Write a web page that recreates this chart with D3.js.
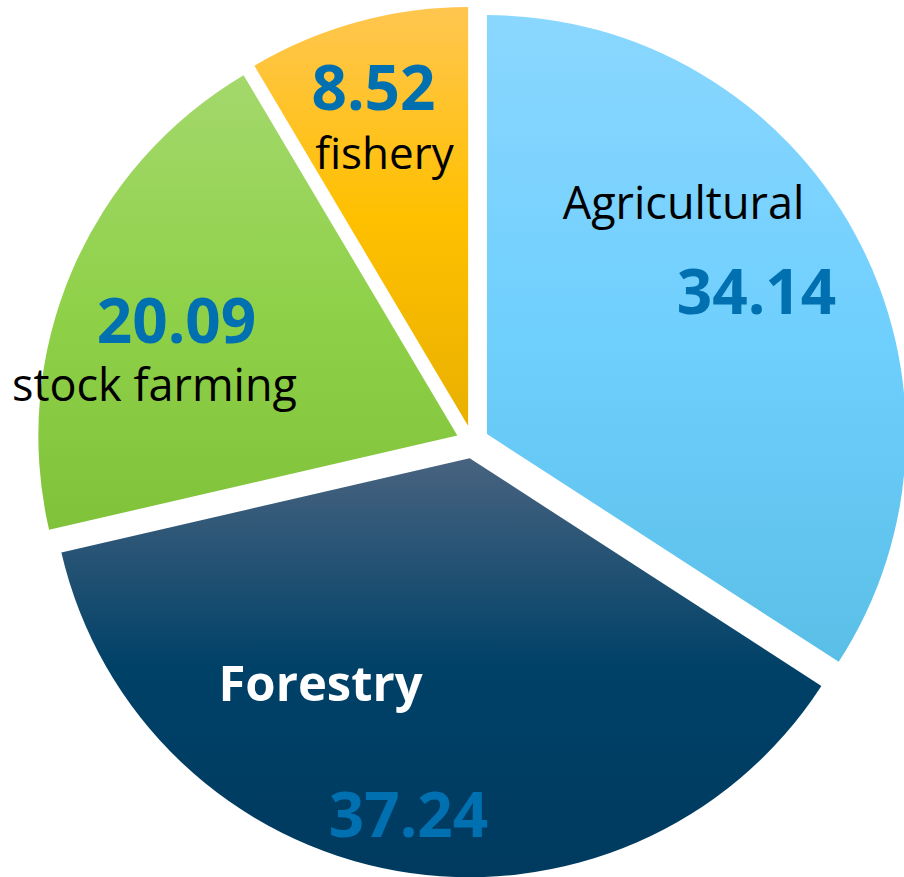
<!DOCTYPE html>
<html>
<head>
<meta charset="utf-8">
<script src="https://cdn.jsdelivr.net/npm/d3@7"></script>
<style>
  html, body { margin: 0; padding: 0; background: #fff; }
  svg { display: block; }
</style>
</head>
<body>
<svg id="chart" width="904" height="877"></svg>
<script>
// ---- data ----
const categories = ["Agricultural", "Forestry", "stock farming", "fishery"];
const values = [34.14, 37.24, 20.09, 8.52];
const valueLabels = ["34.14", "37.24", "20.09", "8.52"];

// ---- styles / layout ----
const W = 904, H = 877;
const cx = 472.5, cy = 442, R = 419, explode = 16.5;
const gradients = [
  ["#8ad7ff", "#6fcffd", "#5abfe7"],
  ["#48637f", "#004168", "#003a5f"],
  ["#a3d86c", "#90d14a", "#80c23a"],
  ["#ffc650", "#ffc000", "#e9b000"]
];
// label placement: offsets from pie centre, name and value
const labelLayout = [
  { name: [211, -223], value: [284, -128] },
  { name: [-152, 259], value: [-64, 395] },
  { name: [-318, -41], value: [-296, -99] },
  { name: [-88, -273], value: [-99, -332] }
];
const nameStyle = [
  { size: 45, weight: 400, fill: "#000" },
  { size: 49, weight: 700, fill: "#fff" },
  { size: 45, weight: 400, fill: "#000" },
  { size: 44, weight: 400, fill: "#000" }
];
const valueColor = "#0070b0";
const font = "'Open Sans', 'Noto Sans', sans-serif";

const svg = d3.select("#chart");
const defs = svg.append("defs");
gradients.forEach((g, i) => {
  const lg = defs.append("linearGradient")
    .attr("id", "grad" + i)
    .attr("x1", 0).attr("y1", 0).attr("x2", 0).attr("y2", 1);
  lg.append("stop").attr("offset", "0%").attr("stop-color", g[0]);
  lg.append("stop").attr("offset", "50%").attr("stop-color", g[1]);
  lg.append("stop").attr("offset", "100%").attr("stop-color", g[2]);
});

const data = categories.map((c, i) => ({ name: c, value: values[i], label: valueLabels[i], i }));
const pie = d3.pie().sort(null).value(d => d.value).startAngle(0).endAngle(2 * Math.PI);
const arc = d3.arc().innerRadius(0).outerRadius(R);
const arcs = pie(data);

const g = svg.append("g").attr("transform", `translate(${cx},${cy})`);

g.selectAll("path.slice")
  .data(arcs)
  .join("path")
  .attr("class", "slice")
  .attr("transform", d => {
    const a = (d.startAngle + d.endAngle) / 2;
    return `translate(${explode * Math.sin(a)},${-explode * Math.cos(a)})`;
  })
  .attr("d", arc)
  .attr("fill", d => `url(#grad${d.data.i})`);

const labels = g.append("g").attr("font-family", font).attr("text-anchor", "middle");
arcs.forEach(d => {
  const i = d.data.i;
  const L = labelLayout[i];
  const s = nameStyle[i];
  labels.append("text")
    .attr("x", L.name[0]).attr("y", L.name[1])
    .attr("font-size", s.size).attr("font-weight", s.weight)
    .attr("fill", s.fill)
    .text(d.data.name);
  labels.append("text")
    .attr("x", L.value[0]).attr("y", L.value[1])
    .attr("font-size", 62).attr("font-weight", 700)
    .attr("fill", valueColor)
    .text(d.data.label);
});
</script>
</body>
</html>
